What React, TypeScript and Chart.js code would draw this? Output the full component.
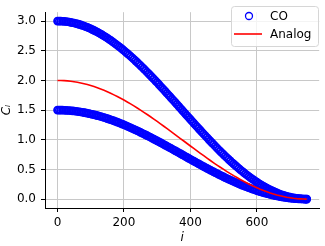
import React, { useEffect, useRef } from "react";
import { Chart, registerables } from "chart.js";

Chart.register(...registerables);

const CO_I = [
  0, 5, 10, 15, 20, 25, 30, 35, 40, 45, 50, 55, 60, 65, 70, 75, 80, 85, 90, 95,
  100, 105, 110, 115, 120, 125, 130, 135, 140, 145, 150, 155, 160, 165, 170, 175, 180, 185, 190, 195,
  200, 205, 210, 215, 220, 225, 230, 235, 240, 245, 250, 255, 260, 265, 270, 275, 280, 285, 290, 295,
  300, 305, 310, 315, 320, 325, 330, 335, 340, 345, 350, 355, 360, 365, 370, 375, 380, 385, 390, 395,
  400, 405, 410, 415, 420, 425, 430, 435, 440, 445, 450, 455, 460, 465, 470, 475, 480, 485, 490, 495,
  500, 505, 510, 515, 520, 525, 530, 535, 540, 545, 550, 555, 560, 565, 570, 575, 580, 585, 590, 595,
  600, 605, 610, 615, 620, 625, 630, 635, 640, 645, 650, 655, 660, 665, 670, 675, 680, 685, 690, 695,
  700, 705, 710, 715, 720, 725, 730, 735, 740, 745, 750,
];

const CO_UPPER = [
  3.0, 3.0, 2.999, 2.997, 2.995, 2.992, 2.988, 2.984, 2.979, 2.973, 2.967, 2.96, 2.953, 2.945, 2.936, 2.927, 2.917, 2.906, 2.895, 2.883,
  2.87, 2.857, 2.844, 2.829, 2.815, 2.799, 2.783, 2.767, 2.749, 2.732, 2.714, 2.695, 2.676, 2.656, 2.636, 2.615, 2.594, 2.572, 2.55, 2.527,
  2.504, 2.48, 2.456, 2.432, 2.407, 2.382, 2.356, 2.33, 2.304, 2.277, 2.25, 2.223, 2.195, 2.167, 2.139, 2.11, 2.081, 2.052, 2.023, 1.993,
  1.964, 1.934, 1.903, 1.873, 1.843, 1.812, 1.781, 1.75, 1.719, 1.688, 1.657, 1.626, 1.594, 1.563, 1.531, 1.5, 1.469, 1.437, 1.406, 1.375,
  1.343, 1.312, 1.281, 1.25, 1.219, 1.188, 1.158, 1.127, 1.097, 1.067, 1.037, 1.007, 0.977, 0.948, 0.919, 0.89, 0.861, 0.833, 0.805, 0.777,
  0.75, 0.723, 0.696, 0.67, 0.644, 0.618, 0.593, 0.568, 0.544, 0.52, 0.496, 0.473, 0.451, 0.428, 0.407, 0.385, 0.365, 0.344, 0.325, 0.305,
  0.287, 0.268, 0.251, 0.234, 0.217, 0.201, 0.186, 0.171, 0.156, 0.143, 0.13, 0.117, 0.105, 0.094, 0.083, 0.073, 0.064, 0.055, 0.047, 0.04,
  0.033, 0.027, 0.021, 0.016, 0.012, 0.008, 0.005, 0.003, 0.001, 0.0, 0.0,
];

const CO_LOWER = [
  1.5, 1.5, 1.499, 1.499, 1.497, 1.496, 1.494, 1.492, 1.489, 1.487, 1.484, 1.48, 1.476, 1.472, 1.468, 1.463, 1.458, 1.453, 1.447, 1.441,
  1.435, 1.428, 1.422, 1.415, 1.407, 1.4, 1.392, 1.383, 1.375, 1.366, 1.357, 1.348, 1.338, 1.328, 1.318, 1.307, 1.297, 1.286, 1.275, 1.263,
  1.252, 1.24, 1.228, 1.216, 1.203, 1.191, 1.178, 1.165, 1.152, 1.139, 1.125, 1.111, 1.097, 1.083, 1.069, 1.055, 1.041, 1.026, 1.011, 0.997,
  0.982, 0.967, 0.952, 0.936, 0.921, 0.906, 0.891, 0.875, 0.86, 0.844, 0.828, 0.813, 0.797, 0.781, 0.766, 0.75, 0.734, 0.719, 0.703, 0.687,
  0.672, 0.656, 0.64, 0.625, 0.609, 0.594, 0.579, 0.563, 0.548, 0.533, 0.518, 0.503, 0.489, 0.474, 0.459, 0.445, 0.431, 0.416, 0.403, 0.389,
  0.375, 0.361, 0.348, 0.335, 0.322, 0.309, 0.297, 0.284, 0.272, 0.26, 0.248, 0.236, 0.225, 0.214, 0.203, 0.193, 0.182, 0.172, 0.162, 0.153,
  0.143, 0.134, 0.125, 0.117, 0.109, 0.101, 0.093, 0.086, 0.078, 0.071, 0.065, 0.059, 0.053, 0.047, 0.042, 0.037, 0.032, 0.028, 0.024, 0.02,
  0.016, 0.013, 0.011, 0.008, 0.006, 0.004, 0.003, 0.001, 0.001, 0.0, 0.0,
];

const ANALOG_I = [
  0, 10, 20, 30, 40, 50, 60, 70, 80, 90, 100, 110, 120, 130, 140, 150, 160, 170, 180, 190,
  200, 210, 220, 230, 240, 250, 260, 270, 280, 290, 300, 310, 320, 330, 340, 350, 360, 370, 380, 390,
  400, 410, 420, 430, 440, 450, 460, 470, 480, 490, 500, 510, 520, 530, 540, 550, 560, 570, 580, 590,
  600, 610, 620, 630, 640, 650, 660, 670, 680, 690, 700, 710, 720, 730, 740, 750,
];

const ANALOG = [
  2.0, 1.999, 1.996, 1.992, 1.986, 1.978, 1.969, 1.957, 1.944, 1.93, 1.914, 1.896, 1.876, 1.855, 1.833, 1.809, 1.784, 1.757, 1.729, 1.7,
  1.669, 1.637, 1.605, 1.571, 1.536, 1.5, 1.463, 1.426, 1.388, 1.349, 1.309, 1.269, 1.228, 1.187, 1.146, 1.105, 1.063, 1.021, 0.979, 0.937,
  0.895, 0.854, 0.813, 0.772, 0.731, 0.691, 0.651, 0.612, 0.574, 0.537, 0.5, 0.464, 0.429, 0.395, 0.363, 0.331, 0.3, 0.271, 0.243, 0.216,
  0.191, 0.167, 0.145, 0.124, 0.104, 0.086, 0.07, 0.056, 0.043, 0.031, 0.022, 0.014, 0.008, 0.004, 0.001, 0.0,
];

const X_TICKS = [0, 200, 400, 600];
const Y_TICKS = [0, 0.5, 1.0, 1.5, 2.0, 2.5, 3.0];
const SERIES_LABELS = ["CO", "Analog"];
const X_LABEL = "i";
const Y_LABEL = "Cᵢ";

const FONT = '"DejaVu Sans", sans-serif';
const BLUE = "#0000ff";
const RED = "#ff0000";

const legendPlugin = {
  id: "mplLegend",
  afterDraw(chart: any) {
    const ctx = chart.ctx;
    ctx.save();
    const x = 231.5, y = 6.5, w = 87, h = 40, r = 3;
    ctx.beginPath();
    ctx.moveTo(x + r, y);
    ctx.lineTo(x + w - r, y);
    ctx.arcTo(x + w, y, x + w, y + r, r);
    ctx.lineTo(x + w, y + h - r);
    ctx.arcTo(x + w, y + h, x + w - r, y + h, r);
    ctx.lineTo(x + r, y + h);
    ctx.arcTo(x, y + h, x, y + h - r, r);
    ctx.lineTo(x, y + r);
    ctx.arcTo(x, y, x + r, y, r);
    ctx.closePath();
    ctx.fillStyle = "rgba(255,255,255,0.8)";
    ctx.fill();
    ctx.strokeStyle = "#d6d6d6";
    ctx.lineWidth = 1;
    ctx.stroke();

    ctx.beginPath();
    ctx.arc(249, 16, 3.5, 0, Math.PI * 2);
    ctx.strokeStyle = BLUE;
    ctx.lineWidth = 1.3;
    ctx.stroke();

    ctx.beginPath();
    ctx.moveTo(234, 34);
    ctx.lineTo(262, 34);
    ctx.strokeStyle = RED;
    ctx.lineWidth = 1.6;
    ctx.stroke();

    ctx.fillStyle = "#000";
    ctx.font = `12px ${FONT}`;
    ctx.textBaseline = "middle";
    ctx.textAlign = "left";
    ctx.fillText(SERIES_LABELS[0], 270, 16.5);
    ctx.fillText(SERIES_LABELS[1], 270, 34.5);
    ctx.restore();
  },
};

export default function App() {
  const canvasRef = useRef<HTMLCanvasElement | null>(null);

  useEffect(() => {
    const canvas = canvasRef.current;
    if (!canvas) return;
    const coPoints = [
      ...CO_I.map((i, k) => ({ x: i, y: CO_UPPER[k] })),
      ...CO_I.map((i, k) => ({ x: i, y: CO_LOWER[k] })),
    ];
    const analogPoints = ANALOG_I.map((i, k) => ({ x: i, y: ANALOG[k] }));

    const chart = new Chart(canvas, {
      type: "scatter",
      data: {
        datasets: [
          {
            label: SERIES_LABELS[1],
            data: analogPoints,
            showLine: true,
            borderColor: RED,
            backgroundColor: RED,
            borderWidth: 1.6,
            pointRadius: 0,
            order: 0,
          } as any,
          {
            label: SERIES_LABELS[0],
            data: coPoints,
            showLine: false,
            borderColor: BLUE,
            backgroundColor: "rgba(0,0,0,0)",
            borderWidth: 1.8,
            pointRadius: 3.4,
            order: 1,
          } as any,
        ],
      },
      options: {
        animation: false,
        responsive: false,
        maintainAspectRatio: false,
        layout: { padding: { top: 0, right: 1, bottom: 0, left: 0 } },
        plugins: {
          legend: { display: false },
          tooltip: { enabled: false },
        },
        scales: {
          x: {
            type: "linear",
            min: -37.5,
            max: 787.5,
            afterBuildTicks: (scale: any) => {
              scale.ticks = X_TICKS.map((v) => ({ value: v }));
            },
            afterFit: (scale: any) => {
              scale.height = 38;
            },
            ticks: {
              color: "#000",
              font: { family: FONT, size: 12 },
              padding: 4,
              maxRotation: 0,
              callback: (v: any) => String(v),
            },
            grid: {
              color: "#c8c8c8",
              lineWidth: 1,
              tickColor: "#000",
              tickLength: 4,
            },
            border: { display: true, color: "#000", width: 1 },
            title: {
              display: true,
              text: X_LABEL,
              color: "#000",
              font: { family: FONT, size: 12, style: "italic" },
              padding: { top: 0, bottom: 1 },
            },
          },
          y: {
            type: "linear",
            min: -0.15,
            max: 3.15,
            afterBuildTicks: (scale: any) => {
              scale.ticks = Y_TICKS.map((v) => ({ value: v }));
            },
            afterFit: (scale: any) => {
              scale.width = 45;
            },
            ticks: {
              color: "#000",
              font: { family: FONT, size: 12 },
              padding: 5,
              callback: (v: any) => Number(v).toFixed(1),
            },
            grid: {
              color: "#c8c8c8",
              lineWidth: 1,
              tickColor: "#000",
              tickLength: 4,
            },
            border: { display: true, color: "#000", width: 1 },
            title: {
              display: true,
              text: Y_LABEL,
              color: "#000",
              font: { family: FONT, size: 12, style: "italic" },
              padding: { top: 0, bottom: 0 },
            },
          },
        },
      },
      plugins: [legendPlugin],
    });
    return () => chart.destroy();
  }, []);

  return (
    <div style={{ position: "absolute", left: 0, top: 0, width: 325, height: 246, background: "#fff" }}>
      <canvas ref={canvasRef} width={325} height={246} style={{ display: "block", width: 325, height: 246 }} />
    </div>
  );
}
